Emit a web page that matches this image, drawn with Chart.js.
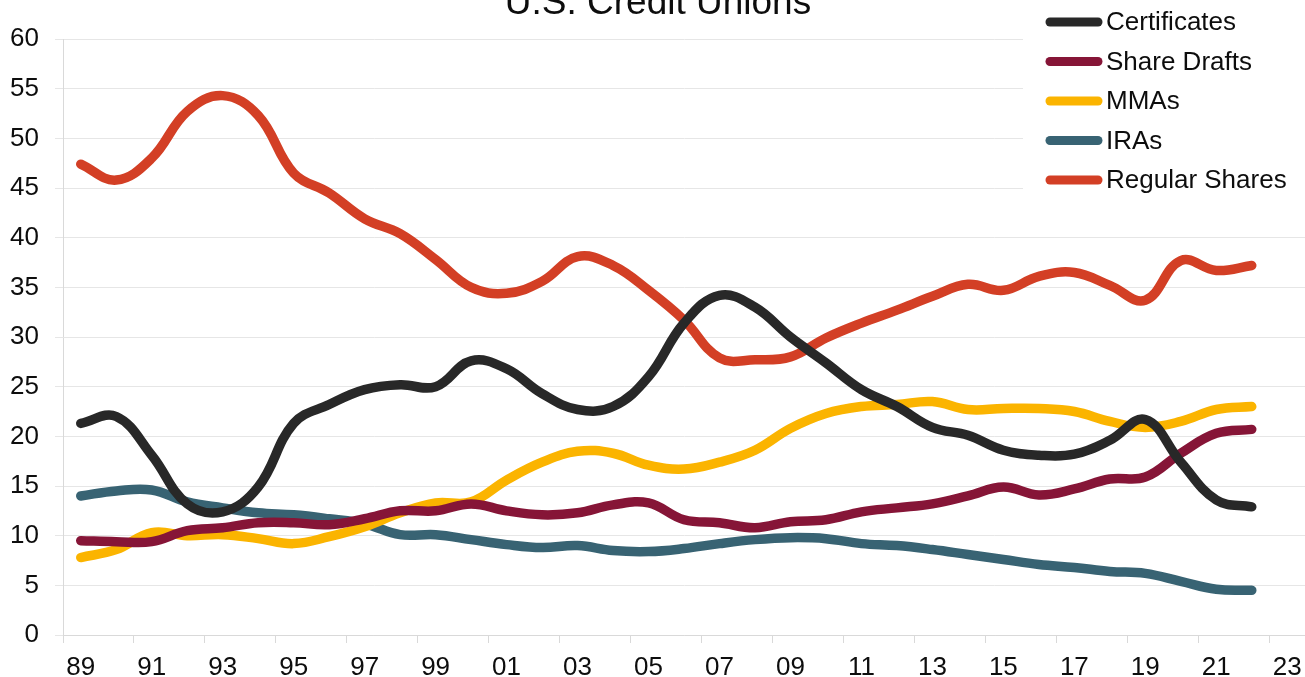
<!DOCTYPE html>
<html>
<head>
<meta charset="utf-8">
<title>U.S. Credit Unions</title>
<script src="https://cdn.jsdelivr.net/npm/chart.js@4.4.1/dist/chart.umd.min.js"></script>
<style>
  html, body { margin: 0; padding: 0; background: #fff; }
  #wrap { width: 1305px; height: 677px; position: relative; overflow: hidden; }
</style>
</head>
<body>
<div id="wrap"><canvas id="shares" width="1305" height="677"></canvas></div>
<script>
'use strict';

/* ─────────────────────────────────────────────────────────
   DATA  (share of deposits, %, year-end 1989 – 2022)
───────────────────────────────────────────────────────── */
const YEARS = ['89','90','91','92','93','94','95','96','97','98','99','00','01','02','03','04','05',
               '06','07','08','09','10','11','12','13','14','15','16','17','18','19','20','21','22','23'];

const CERTIFICATES = [21.3, 22.0, 18.1, 13.2, 12.4, 14.9, 21.3, 23.2, 24.7, 25.2, 25.0, 27.6, 26.8, 24.3, 22.7, 23.0, 26.0,
                      31.4, 34.2, 33.0, 30.0, 27.4, 24.7, 23.0, 20.9, 20.1, 18.6, 18.1, 18.2, 19.6, 21.7, 17.4, 13.6, 12.9];
const SHARE_DRAFTS = [9.5, 9.4, 9.4, 10.5, 10.8, 11.3, 11.3, 11.1, 11.7, 12.5, 12.5, 13.2, 12.5, 12.1, 12.3, 13.1, 13.3,
                      11.6, 11.3, 10.8, 11.4, 11.6, 12.4, 12.8, 13.2, 14.0, 14.9, 14.1, 14.7, 15.7, 15.9, 18.3, 20.3, 20.7];
const MMAS         = [7.8, 8.6, 10.3, 10.0, 10.1, 9.7, 9.2, 9.9, 10.9, 12.3, 13.3, 13.4, 15.6, 17.4, 18.5, 18.3, 17.1,
                      16.7, 17.4, 18.6, 20.8, 22.3, 23.0, 23.2, 23.5, 22.7, 22.8, 22.8, 22.5, 21.5, 20.9, 21.5, 22.7, 23.0];
const IRAS         = [14.0, 14.5, 14.6, 13.4, 12.8, 12.3, 12.1, 11.7, 11.2, 10.1, 10.1, 9.6, 9.1, 8.8, 9.0, 8.5, 8.4,
                      8.7, 9.2, 9.6, 9.8, 9.7, 9.2, 9.0, 8.6, 8.1, 7.6, 7.1, 6.8, 6.4, 6.2, 5.4, 4.6, 4.5];
const REGULAR      = [47.4, 45.8, 48.0, 52.7, 54.3, 52.3, 46.5, 44.5, 41.9, 40.4, 37.8, 35.0, 34.4, 35.6, 38.1, 37.2, 34.7,
                      31.7, 27.9, 27.7, 28.0, 29.9, 31.4, 32.7, 34.1, 35.3, 34.7, 36.1, 36.5, 35.2, 33.7, 37.7, 36.7, 37.2];

const SERIES_NAMES  = ['Certificates', 'Share Drafts', 'MMAs', 'IRAs', 'Regular Shares'];
const SERIES_VALUES = [CERTIFICATES, SHARE_DRAFTS, MMAS, IRAS, REGULAR];
const SERIES_COLORS = ['#282828', '#861537', '#fbb400', '#386373', '#d33f25'];

const Y_MIN = 0, Y_MAX = 60, Y_STEP = 5;
const TITLE = 'U.S. Credit Unions';

/* ─────────────────────────────────────────────────────────
   STYLE
───────────────────────────────────────────────────────── */
const FONT   = '"Liberation Sans", Arial, sans-serif';
const INK    = '#0d0d0d';
const GRID   = '#e6e6e6';
const AXIS   = '#d9d9d9';

/* ─────────────────────────────────────────────────────────
   PLUGINS — title (sits partly above the canvas) + legend box
───────────────────────────────────────────────────────── */
const titlePlugin = {
  id: 'topTitle',
  afterDraw(chart) {
    const ctx = chart.ctx;
    ctx.save();
    ctx.font = `37px ${FONT}`;
    ctx.fillStyle = INK;
    ctx.textAlign = 'center';
    ctx.textBaseline = 'alphabetic';
    ctx.fillText(TITLE, 658, 14);
    ctx.restore();
  }
};

const legendPlugin = {
  id: 'boxLegend',
  afterDraw(chart) {
    const ctx = chart.ctx;
    ctx.save();
    ctx.fillStyle = '#fff';
    ctx.fillRect(1023, 0, 282, 205);
    ctx.font = `26px ${FONT}`;
    ctx.textBaseline = 'middle';
    ctx.textAlign = 'left';
    chart.data.datasets.forEach((ds, i) => {
      const y = 22 + i * 39.5;
      ctx.strokeStyle = ds.borderColor;
      ctx.lineWidth = 9;
      ctx.lineCap = 'round';
      ctx.beginPath();
      ctx.moveTo(1050, y);
      ctx.lineTo(1098, y);
      ctx.stroke();
      ctx.fillStyle = INK;
      ctx.fillText(ds.label, 1106, y + 1);
    });
    ctx.restore();
  }
};

/* ─────────────────────────────────────────────────────────
   CHART
───────────────────────────────────────────────────────── */
new Chart(document.getElementById('shares'), {
  type: 'line',
  data: {
    labels: YEARS,
    datasets: SERIES_NAMES.map((name, i) => ({
      label: name,
      data: SERIES_VALUES[i],
      borderColor: SERIES_COLORS[i],
      backgroundColor: SERIES_COLORS[i],
      borderWidth: 9.5,
      borderCapStyle: 'round',
      borderJoinStyle: 'round',
      tension: 0.4,
      pointRadius: 0,
      fill: false
    }))
  },
  options: {
    responsive: false,
    animation: false,
    devicePixelRatio: 1,
    layout: { padding: { top: 39, left: 0, right: 0, bottom: 0 } },
    plugins: {
      legend: { display: false },
      title: { display: false },
      tooltip: { enabled: false }
    },
    scales: {
      x: {
        type: 'category',
        offset: true,
        afterFit(scale) {
          scale.height = 42;
          scale.paddingLeft = 0;
          scale.paddingRight = 0;
        },
        grid: {
          offset: true,
          drawOnChartArea: false,
          drawTicks: true,
          tickLength: 8,
          color: c => (c.index % 2 === 0 ? AXIS : 'rgba(0,0,0,0)')
        },
        border: { display: true, color: AXIS, width: 1 },
        ticks: {
          autoSkip: false,
          maxRotation: 0,
          padding: 9,
          color: INK,
          font: { family: FONT, size: 26 },
          callback(v, i) { return i % 2 === 0 ? YEARS[i] : ''; }
        }
      },
      y: {
        min: Y_MIN,
        max: Y_MAX,
        afterFit(scale) { scale.width = 63; },
        grid: { color: GRID, lineWidth: 1, drawTicks: true, tickLength: 8 },
        border: { display: true, color: AXIS, width: 1 },
        ticks: {
          stepSize: Y_STEP,
          padding: 16,
          color: INK,
          font: { family: FONT, size: 26 }
        }
      }
    }
  },
  plugins: [titlePlugin, legendPlugin]
});
</script>
</body>
</html>
